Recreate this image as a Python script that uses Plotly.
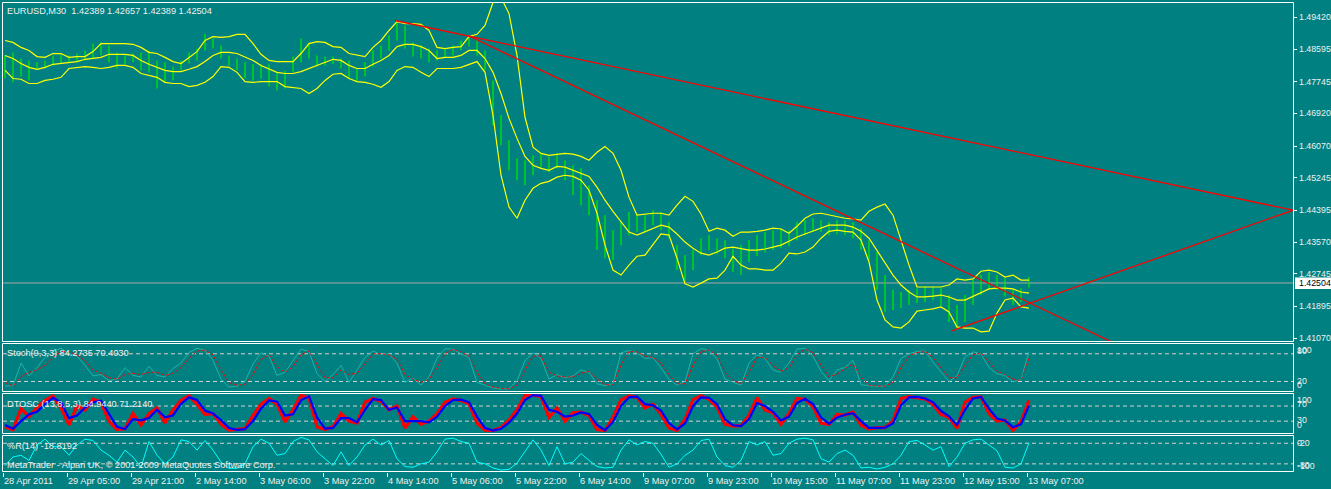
import plotly.graph_objects as go

W, H = 1331, 489
BG = "#008080"
FONT = "Liberation Sans"
FS = 9.2

# ---------------- data (sampled every 4th M30 bar) ----------------
bar_index = list(range(1, 514, 4))

high = [
    1.4843, 1.4851, 1.4835, 1.4830, 1.4825, 1.4830, 1.4843, 1.4846, 1.4843, 1.4848,
    1.4856, 1.4874, 1.4877, 1.4869, 1.4851, 1.4843, 1.4848, 1.4851, 1.4856, 1.4830,
    1.4825, 1.4814, 1.4830, 1.4851, 1.4861, 1.4898, 1.4887, 1.4869, 1.4843, 1.4835,
    1.4825, 1.4820, 1.4820, 1.4820, 1.4799, 1.4804, 1.4840, 1.4887, 1.4877, 1.4843,
    1.4840, 1.4840, 1.4835, 1.4830, 1.4809, 1.4825, 1.4856, 1.4869, 1.4895, 1.4934,
    1.4921, 1.4877, 1.4869, 1.4861, 1.4856, 1.4861, 1.4869, 1.4882, 1.4892, 1.4882,
    1.4856, 1.4778, 1.4687, 1.4622, 1.4575, 1.4570, 1.4583, 1.4588, 1.4580, 1.4588,
    1.4570, 1.4557, 1.4549, 1.4505, 1.4466, 1.4427, 1.4388, 1.4409, 1.4435, 1.4430,
    1.4427, 1.4440, 1.4435, 1.4409, 1.4349, 1.4323, 1.4336, 1.4367, 1.4375, 1.4367,
    1.4362, 1.4341, 1.4349, 1.4362, 1.4375, 1.4383, 1.4388, 1.4393, 1.4388, 1.4409,
    1.4414, 1.4419, 1.4414, 1.4409, 1.4414, 1.4414, 1.4409, 1.4393, 1.4362, 1.4331,
    1.4271, 1.4232, 1.4227, 1.4232, 1.4237, 1.4242, 1.4240, 1.4237, 1.4219, 1.4193,
    1.4219, 1.4258, 1.4271, 1.4279, 1.4271, 1.4263, 1.4232, 1.4237, 1.42657,
]
low = [
    1.4783, 1.4773, 1.4788, 1.4778, 1.4809, 1.4809, 1.4817, 1.4822, 1.4825, 1.4825,
    1.4830, 1.4835, 1.4843, 1.4825, 1.4809, 1.4820, 1.4825, 1.4804, 1.4799, 1.4757,
    1.4773, 1.4778, 1.4804, 1.4822, 1.4830, 1.4856, 1.4861, 1.4835, 1.4817, 1.4804,
    1.4783, 1.4778, 1.4783, 1.4762, 1.4752, 1.4757, 1.4799, 1.4825, 1.4835, 1.4814,
    1.4817, 1.4820, 1.4809, 1.4783, 1.4773, 1.4788, 1.4814, 1.4835, 1.4856, 1.4882,
    1.4861, 1.4840, 1.4835, 1.4825, 1.4830, 1.4838, 1.4843, 1.4856, 1.4866, 1.4843,
    1.4804, 1.4661, 1.4609, 1.4544, 1.4518, 1.4505, 1.4531, 1.4549, 1.4539, 1.4549,
    1.4518, 1.4479, 1.4453, 1.4427, 1.4336, 1.4315, 1.4310, 1.4349, 1.4375, 1.4383,
    1.4383, 1.4401, 1.4388, 1.4367, 1.4284, 1.4253, 1.4284, 1.4323, 1.4336, 1.4326,
    1.4315, 1.4279, 1.4271, 1.4305, 1.4320, 1.4331, 1.4336, 1.4341, 1.4346, 1.4362,
    1.4375, 1.4383, 1.4383, 1.4375, 1.4377, 1.4375, 1.4367, 1.4336, 1.4310, 1.4232,
    1.4175, 1.4180, 1.4185, 1.4193, 1.4198, 1.4201, 1.4206, 1.4190, 1.4149, 1.4128,
    1.4149, 1.4193, 1.4219, 1.4232, 1.4232, 1.4216, 1.4193, 1.4201, 1.42389,
]
bb_upper = [
    1.4882, 1.4877, 1.4864, 1.4856, 1.4840, 1.4838, 1.4848, 1.4848, 1.4838, 1.4840,
    1.4840, 1.4853, 1.4874, 1.4874, 1.4874, 1.4874, 1.4872, 1.4864, 1.4851, 1.4848,
    1.4838, 1.4827, 1.4822, 1.4838, 1.4853, 1.4882, 1.4892, 1.4890, 1.4892, 1.4898,
    1.4898, 1.4874, 1.4846, 1.4830, 1.4827, 1.4827, 1.4827, 1.4848, 1.4874, 1.4879,
    1.4877, 1.4866, 1.4864, 1.4848, 1.4843, 1.4840, 1.4864, 1.4882, 1.4908, 1.4931,
    1.4926, 1.4926, 1.4924, 1.4908, 1.4864, 1.4861, 1.4864, 1.4866, 1.4892, 1.4898,
    1.4921, 1.4981, 1.4994, 1.4952, 1.4843, 1.4682, 1.4604, 1.4588, 1.4583, 1.4586,
    1.4588, 1.4586, 1.4580, 1.4570, 1.4591, 1.4606, 1.4588, 1.4544, 1.4474, 1.4427,
    1.4430, 1.4432, 1.4432, 1.4427, 1.4453, 1.4476, 1.4463, 1.4430, 1.4385, 1.4393,
    1.4388, 1.4372, 1.4383, 1.4383, 1.4385, 1.4388, 1.4393, 1.4391, 1.4380, 1.4398,
    1.4419, 1.4430, 1.4432, 1.4427, 1.4422, 1.4419, 1.4417, 1.4414, 1.4437, 1.4448,
    1.4456, 1.4427, 1.4362, 1.4297, 1.4240, 1.4240, 1.4240, 1.4240, 1.4245, 1.4261,
    1.4258, 1.4261, 1.4281, 1.4284, 1.4279, 1.4266, 1.4271, 1.4258, 1.4258,
]
bb_middle = [
    1.4843, 1.4835, 1.4822, 1.4812, 1.4807, 1.4812, 1.4820, 1.4822, 1.4825, 1.4827,
    1.4833, 1.4835, 1.4838, 1.4846, 1.4846, 1.4846, 1.4843, 1.4830, 1.4820, 1.4812,
    1.4804, 1.4801, 1.4801, 1.4807, 1.4814, 1.4827, 1.4843, 1.4851, 1.4851, 1.4848,
    1.4840, 1.4830, 1.4817, 1.4807, 1.4799, 1.4796, 1.4796, 1.4801, 1.4809, 1.4817,
    1.4825, 1.4833, 1.4830, 1.4817, 1.4809, 1.4809, 1.4820, 1.4830, 1.4843, 1.4866,
    1.4872, 1.4872, 1.4866, 1.4856, 1.4835, 1.4838, 1.4838, 1.4843, 1.4856, 1.4856,
    1.4835, 1.4799, 1.4744, 1.4679, 1.4627, 1.4580, 1.4557, 1.4549, 1.4544, 1.4554,
    1.4552, 1.4544, 1.4536, 1.4528, 1.4500, 1.4466, 1.4437, 1.4409, 1.4383, 1.4375,
    1.4383, 1.4393, 1.4401, 1.4396, 1.4378, 1.4357, 1.4341, 1.4328, 1.4323, 1.4331,
    1.4341, 1.4344, 1.4339, 1.4336, 1.4336, 1.4339, 1.4344, 1.4349, 1.4359, 1.4370,
    1.4378, 1.4385, 1.4393, 1.4401, 1.4401, 1.4401, 1.4396, 1.4385, 1.4367, 1.4336,
    1.4305, 1.4271, 1.4245, 1.4227, 1.4214, 1.4214, 1.4216, 1.4219, 1.4214, 1.4206,
    1.4206, 1.4216, 1.4227, 1.4235, 1.4237, 1.4237, 1.4235, 1.4227, 1.4224,
]
bb_lower = [
    1.4804, 1.4783, 1.4781, 1.4770, 1.4770, 1.4778, 1.4781, 1.4786, 1.4809, 1.4812,
    1.4814, 1.4812, 1.4809, 1.4812, 1.4817, 1.4817, 1.4812, 1.4796, 1.4791, 1.4786,
    1.4773, 1.4770, 1.4770, 1.4762, 1.4765, 1.4773, 1.4788, 1.4814, 1.4812, 1.4799,
    1.4775, 1.4773, 1.4775, 1.4775, 1.4775, 1.4762, 1.4760, 1.4757, 1.4744, 1.4757,
    1.4778, 1.4794, 1.4796, 1.4783, 1.4775, 1.4773, 1.4768, 1.4760, 1.4775, 1.4804,
    1.4814, 1.4812, 1.4799, 1.4788, 1.4809, 1.4809, 1.4809, 1.4812, 1.4820, 1.4827,
    1.4799, 1.4687, 1.4531, 1.4448, 1.4419, 1.4466, 1.4497, 1.4510, 1.4515, 1.4526,
    1.4531, 1.4528, 1.4518, 1.4492, 1.4432, 1.4349, 1.4284, 1.4271, 1.4297, 1.4320,
    1.4323, 1.4349, 1.4378, 1.4375, 1.4315, 1.4248, 1.4240, 1.4250, 1.4261, 1.4263,
    1.4284, 1.4320, 1.4297, 1.4287, 1.4287, 1.4284, 1.4284, 1.4302, 1.4328, 1.4326,
    1.4331, 1.4344, 1.4367, 1.4385, 1.4388, 1.4385, 1.4383, 1.4362, 1.4305, 1.4206,
    1.4154, 1.4136, 1.4133, 1.4149, 1.4177, 1.4180, 1.4183, 1.4188, 1.4175, 1.4136,
    1.4133, 1.4133, 1.4123, 1.4125, 1.4172, 1.4206, 1.4211, 1.4188, 1.4185,
]
stoch_main = [
    10, 11, 60, 32, 50, 72, 86, 92, 80, 75,
    55, 32, 35, 22, 25, 50, 33, 30, 53, 33,
    30, 48, 60, 83, 92, 88, 66, 25, 8, 10,
    20, 58, 82, 75, 33, 40, 65, 90, 85, 37,
    20, 35, 55, 18, 45, 72, 86, 78, 80, 60,
    18, 28, 12, 30, 70, 91, 90, 80, 72, 18,
    12, 6, 4, 4, 22, 65, 82, 70, 25, 35,
    28, 32, 45, 40, 15, 11, 15, 82, 87, 82,
    70, 72, 50, 25, 12, 20, 80, 91, 87, 69,
    25, 18, 12, 60, 78, 70, 45, 40, 60, 90,
    92, 75, 42, 22, 45, 50, 66, 13, 11, 9,
    10, 30, 70, 80, 85, 86, 62, 42, 20, 32,
    73, 84, 80, 50, 37, 33, 19, 24, 84.2735,
]
stoch_signal = [
    18, 10, 30, 40, 45, 55, 72, 85, 84, 78,
    65, 45, 38, 28, 25, 35, 38, 35, 40, 40,
    33, 38, 50, 70, 86, 88, 78, 45, 18, 12,
    14, 35, 68, 78, 52, 40, 52, 78, 86, 58,
    28, 28, 45, 35, 38, 58, 80, 80, 78, 68,
    35, 25, 18, 25, 50, 80, 90, 84, 75, 40,
    15, 8, 5, 4, 12, 45, 75, 75, 40, 32,
    30, 30, 38, 42, 25, 13, 13, 55, 85, 84,
    75, 72, 60, 35, 15, 15, 55, 85, 88, 78,
    40, 22, 15, 40, 72, 72, 55, 42, 50, 78,
    90, 82, 55, 30, 36, 48, 58, 30, 12, 10,
    10, 18, 50, 75, 83, 85, 72, 50, 28, 28,
    55, 78, 82, 62, 42, 35, 25, 22, 70.4030,
]
dtosc_main = [
    15, 7, 63, 42, 66, 85, 97, 65, 20, 70,
    59, 88, 80, 30, 8, 10, 50, 20, 50, 65,
    25, 60, 85, 97, 75, 48, 50, 22, 6, 8,
    10, 45, 75, 90, 75, 28, 60, 98, 92, 15,
    8, 15, 50, 30, 25, 80, 90, 82, 60, 70,
    12, 41, 22, 30, 50, 80, 89, 85, 76, 25,
    6, 5, 13, 33, 60, 98, 99, 95, 40, 65,
    30, 52, 54, 45, 8, 5, 40, 86, 97, 93,
    65, 75, 48, 12, 5, 35, 87, 97, 88, 67,
    22, 17, 18, 45, 92, 60, 52, 22, 50, 90,
    88, 68, 25, 21, 48, 46, 54, 20, 9, 13,
    13, 30, 90, 95, 93, 89, 75, 48, 40, 11,
    80, 93, 94, 50, 30, 33, 6, 28, 84.9440,
]
dtosc_signal = [
    20, 10, 30, 48, 55, 75, 92, 80, 38, 45,
    66, 80, 84, 50, 15, 9, 35, 32, 38, 60,
    40, 45, 76, 93, 86, 58, 50, 33, 12, 7,
    9, 30, 63, 85, 82, 45, 48, 85, 96, 40,
    10, 12, 38, 38, 27, 60, 88, 86, 60, 66,
    30, 30, 30, 27, 42, 70, 86, 87, 80, 42,
    12, 5, 10, 26, 50, 86, 99, 97, 60, 55,
    42, 45, 53, 49, 20, 6, 28, 70, 93, 95,
    75, 72, 58, 25, 8, 24, 70, 93, 92, 75,
    35, 19, 17, 35, 78, 70, 55, 32, 42, 78,
    89, 75, 40, 23, 40, 47, 51, 30, 12, 12,
    13, 24, 72, 93, 94, 90, 80, 57, 43, 20,
    60, 90, 94, 63, 37, 32, 14, 22, 71.2140,
]
wpr = [
    -85, -60, -55, -70, -25, -8, -30, -30, -55, -25,
    -8, -12, -40, -55, -75, -40, -60, -90, -15, -55,
    -80, -60, -10, -15, -40, -12, -40, -75, -93, -93,
    -80, -30, -8, -20, -55, -50, -15, -3, -10, -45,
    -65, -85, -45, -85, -60, -25, -8, -25, -12, -65,
    -88, -90, -80, -75, -45, -8, -5, -15, -20, -75,
    -80, -92, -98, -96, -78, -45, -10, -40, -85, -30,
    -80, -75, -50, -70, -88, -92, -90, -40, -10, -25,
    -15, -20, -52, -90, -80, -55, -40, -12, -8, -60,
    -85, -90, -70, -15, -25, -15, -55, -50, -20, -8,
    -5, -10, -65, -75, -50, -40, -55, -92, -90, -95,
    -90, -80, -55, -15, -12, -25, -40, -30, -88, -60,
    -20, -10, -8, -25, -42, -90, -92, -80, -18.8192,
]

# trend lines drawn on the chart (bar index, price)
trend_down1_x = [196, 645]
trend_down1_y = [1.4934, 1.4440]
trend_down2_x = [232.5, 645]
trend_down2_y = [1.4895, 1.3872]
trend_up_x = [474, 645]
trend_up_y = [1.4125, 1.4440]

last_open, last_high, last_low, last_close = 1.42389, 1.42657, 1.42389, 1.42504

price_ticks = [1.49420, 1.48595, 1.47745, 1.46920, 1.46070, 1.45245,
               1.44395, 1.43570, 1.42745, 1.41895, 1.41070]
time_tick_index = [0, 32, 64, 96, 128, 160, 192, 224, 256, 288, 320,
                   352, 384, 416, 448, 480, 512]
time_labels = ["28 Apr 2011", "29 Apr 05:00", "29 Apr 21:00", "2 May 14:00",
               "3 May 06:00", "3 May 22:00", "4 May 14:00", "5 May 06:00",
               "5 May 22:00", "6 May 14:00", "9 May 07:00", "9 May 23:00",
               "10 May 15:00", "11 May 07:00", "11 May 23:00", "12 May 15:00",
               "13 May 07:00"]
stoch_levels = [80, 20]
dtosc_levels = [70, 30]
wpr_levels = [-20, -80]

# ---------------- layout helpers ----------------
def px(x):
    return x / W

def py(y):
    return 1 - y / H

XDOM = [px(3), px(1293)]
XRANGE = [0, 645]

fig = go.Figure()

# price bars
bx, by = [], []
for x, h, l in zip(bar_index, high, low):
    bx += [x, x, None]
    by += [l, h, None]
fig.add_trace(go.Scatter(x=bx, y=by, mode="lines",
                         line=dict(color="#00E600", width=1.3),
                         hoverinfo="skip", xaxis="x", yaxis="y"))

for band in (bb_upper, bb_middle, bb_lower):
    fig.add_trace(go.Scatter(x=bar_index, y=band, mode="lines",
                             line=dict(color="#FFFF00", width=1.2),
                             xaxis="x", yaxis="y"))

for tx, ty in ((trend_down1_x, trend_down1_y), (trend_down2_x, trend_down2_y),
               (trend_up_x, trend_up_y)):
    fig.add_trace(go.Scatter(x=tx, y=ty, mode="lines",
                             line=dict(color="#FF0000", width=1.3),
                             xaxis="x", yaxis="y"))

# Stochastic
fig.add_trace(go.Scatter(x=bar_index, y=stoch_main, mode="lines",
                         line=dict(color="#20B2AA", width=1),
                         xaxis="x2", yaxis="y2"))
fig.add_trace(go.Scatter(x=bar_index, y=stoch_signal, mode="lines",
                         line=dict(color="#FF0000", width=1, dash="3px,2px"),
                         xaxis="x2", yaxis="y2"))
# DTOSC
fig.add_trace(go.Scatter(x=bar_index, y=dtosc_main, mode="lines",
                         line=dict(color="#FF0000", width=3.2),
                         xaxis="x3", yaxis="y3"))
fig.add_trace(go.Scatter(x=bar_index, y=dtosc_signal, mode="lines",
                         line=dict(color="#0000FF", width=2.2),
                         xaxis="x3", yaxis="y3"))
# Williams %R
fig.add_trace(go.Scatter(x=bar_index, y=wpr, mode="lines",
                         line=dict(color="#00FFFF", width=1),
                         xaxis="x4", yaxis="y4"))

shapes = []
shapes.append(dict(type="line", xref="x domain", yref="y", x0=0, x1=1,
                   y0=last_close, y1=last_close,
                   line=dict(color="#A8A8A8", width=1), layer="below"))
for axn, levels in (("2", stoch_levels), ("3", dtosc_levels), ("4", wpr_levels)):
    for lv in levels:
        shapes.append(dict(type="line", xref="x%s domain" % axn, yref="y" + axn,
                           x0=0, x1=1, y0=lv, y1=lv,
                           line=dict(color="#D8D0D0", width=1, dash="4px,3px"),
                           layer="below"))
for (top, bot) in ((2.5, 341.5), (343.5, 391.5), (393.5, 433.5), (435.5, 471.5)):
    shapes.append(dict(type="rect", xref="paper", yref="paper",
                       x0=px(2.5), x1=px(1293.5), y0=py(bot), y1=py(top),
                       line=dict(color="#FFFFFF", width=1)))
shapes.append(dict(type="rect", xref="paper", yref="paper",
                   x0=px(1295), x1=px(1335), y0=py(289), y1=py(277.5),
                   fillcolor="#FFFFFF", line=dict(width=0)))

ann = []
tf = dict(family=FONT, size=FS, color="#F0F0F0")
pf = dict(family=FONT, size=8.8, color="#F0F0F0")

def label(x, y, text, yref="paper", font=tf):
    ann.append(dict(xref="paper", yref=yref, x=px(x), y=y, xanchor="left",
                    yanchor="middle", showarrow=False, font=font, text=text,
                    borderpad=0))

label(6, py(11), "EURUSD,M30  %.5f %.5f %.5f %.5f" % (last_open, last_high, last_low, last_close))
label(6, py(353), "Stoch(9,3,3) %.4f %.4f" % (stoch_main[-1], stoch_signal[-1]))
label(6, py(403.5), "DTOSC (13,8,5,3) %.4f %.4f" % (dtosc_main[-1], dtosc_signal[-1]))
label(6, py(446), "%%R(14) %.4f" % wpr[-1])
label(6, py(464.5), "MetaTrader - Alpari UK, © 2001-2009 MetaQuotes Software Corp.")
# price scale labels
for v in price_ticks:
    label(1298, v, "%.5f" % v, yref="y", font=pf)
label(1298, last_close, "%.5f" % last_close, yref="y",
      font=dict(family=FONT, size=8.8, color="#000000"))
# oscillator scale labels
for txt, yy in (("100", 349.5), ("80", 350.5), ("20", 380.5), ("0", 384.5),
                ("100", 400), ("70", 403.5), ("30", 420), ("0", 424.5),
                ("0", 442.5), ("-20", 443), ("-80", 465), ("-100", 465.5)):
    label(1296, py(yy), txt, font=pf)
# time labels
for ti, lab in zip(time_tick_index, time_labels):
    ann.append(dict(xref="x4", yref="paper", x=ti, y=py(481), xanchor="left",
                    yanchor="middle", showarrow=False, font=tf, text=lab,
                    borderpad=0, xshift=0))

def xax(anchor, ticks=False):
    d = dict(domain=XDOM, range=XRANGE, anchor=anchor, showgrid=False,
             zeroline=False, showline=False, showticklabels=False, fixedrange=True,
             automargin=False)
    if ticks:
        d.update(ticks="outside", tickvals=time_tick_index, ticklen=4,
                 tickcolor="#FFFFFF", tickwidth=1)
    return d

def yax(dom, rng, anchor):
    return dict(domain=[py(dom[1]), py(dom[0])], range=rng, anchor=anchor,
                showgrid=False, zeroline=False, showline=False,
                showticklabels=False, fixedrange=True, automargin=False)

yaxis_main = yax((2.5, 341.5), [1.40980, 1.49809], "x")
yaxis_main.update(side="right", tickvals=price_ticks, ticks="outside",
                  ticklen=3, tickcolor="#FFFFFF")

fig.update_layout(
    template="none",
    width=W, height=H,
    margin=dict(l=0, r=0, t=0, b=0, pad=0),
    paper_bgcolor=BG, plot_bgcolor=BG,
    showlegend=False,
    font=dict(family=FONT, size=FS, color="#F0F0F0"),
    xaxis=xax("y"), xaxis2=xax("y2"), xaxis3=xax("y3"), xaxis4=xax("y4", True),
    yaxis=yaxis_main,
    yaxis2=yax((343.5, 391.5), [-1.7, 102.3], "x2"),
    yaxis3=yax((393.5, 433.5), [-2.7, 103.2], "x3"),
    yaxis4=yax((435.5, 471.5), [-102.3, 2.6], "x4"),
    shapes=shapes, annotations=ann,
)

fig.write_html("out.html", config={"displayModeBar": False, "staticPlot": True},
               post_script="document.body.style.margin='0';document.body.style.background='#008080';")
